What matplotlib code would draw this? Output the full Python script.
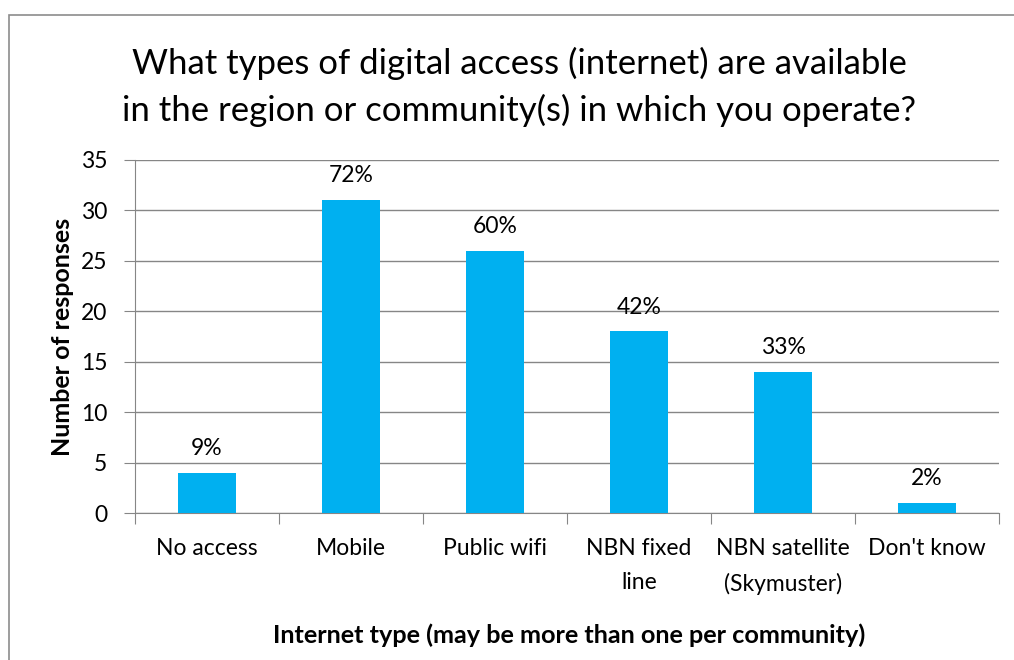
import matplotlib.pyplot as plt
from matplotlib.patches import Rectangle

categories = ["No access", "Mobile", "Public wifi", "NBN fixed\nline",
              "NBN satellite\n(Skymuster)", "Don't know"]
responses = [4, 31, 26, 18, 14, 1]
percent_labels = ["9%", "72%", "60%", "42%", "33%", "2%"]

BAR_COLOR = "#00B0F0"
GRID_COLOR = "#868686"

plt.rcParams["font.family"] = ["Lato", "DejaVu Sans"]

fig = plt.figure(figsize=(10.14, 6.6), dpi=100)
ax = fig.add_axes([135 / 1014, 1 - 513 / 660, (999 - 135) / 1014, (513 - 160) / 660])

# chart area border, running off the right and bottom edges
fig.patches.append(Rectangle((9 / 1014, -0.05), 1.1, 1 - 15 / 660 + 0.05,
                             transform=fig.transFigure, fill=False,
                             edgecolor="#8c8c8c", linewidth=1.2, zorder=0))

x = range(len(categories))
bars = ax.bar(x, responses, width=0.4, color=BAR_COLOR, zorder=3)

for bar, lbl in zip(bars, percent_labels):
    ax.annotate(lbl, (bar.get_x() + bar.get_width() / 2, bar.get_height()),
                xytext=(0, 10), textcoords="offset points",
                ha="center", va="bottom", fontsize=16.5)

ax.set_xlim(-0.5, len(categories) - 0.5)
ax.set_ylim(0, 35)
ax.set_yticks(range(0, 36, 5))
ax.set_xticks([i - 0.5 for i in range(len(categories) + 1)], minor=False)
ax.set_xticklabels([])
ax.set_xticks(list(x), minor=True)
ax.set_xticklabels(categories, minor=True, fontsize=16.5, linespacing=1.75)
ax.tick_params(axis="x", which="minor", length=0, pad=18)
ax.tick_params(axis="x", which="major", length=8, color=GRID_COLOR, direction="out")
ax.tick_params(axis="y", length=8, color=GRID_COLOR, labelsize=16.5, pad=12)

ax.grid(axis="y", color=GRID_COLOR, linewidth=1, zorder=0)
for side in ["top", "right"]:
    ax.spines[side].set_visible(False)
for side in ["left", "bottom"]:
    ax.spines[side].set_color(GRID_COLOR)

ax.set_ylabel("Number of responses", fontsize=18, fontweight="bold", labelpad=5)
fig.text(569 / 1014, 1 - 635 / 660, "Internet type (may be more than one per community)",
         ha="center", va="center", fontsize=18.2, fontweight="bold")
fig.text(519 / 1014, 1 - 87 / 660,
         "What types of digital access (internet) are available\nin the region or community(s) in which you operate?",
         ha="center", va="center", fontsize=25, linespacing=1.5)

fig.savefig("out.png")
